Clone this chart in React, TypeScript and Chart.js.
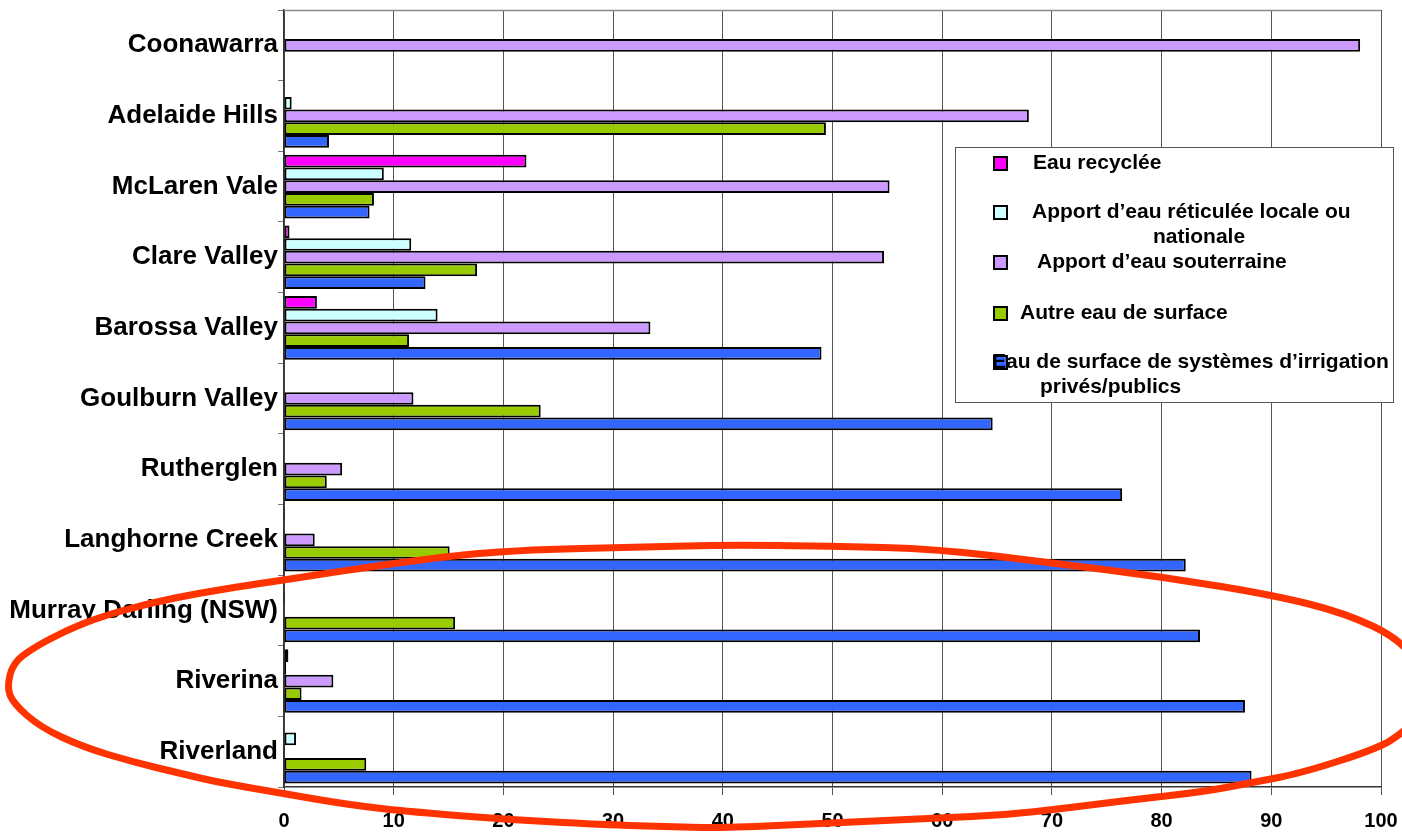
import React, { useEffect, useRef } from "react";
import { Chart, registerables } from "chart.js";

Chart.register(...registerables);

const CATEGORIES = [
  "Coonawarra",
  "Adelaide Hills",
  "McLaren Vale",
  "Clare Valley",
  "Barossa Valley",
  "Goulburn Valley",
  "Rutherglen",
  "Langhorne Creek",
  "Murray Darling (NSW)",
  "Riverina",
  "Riverland",
];

const SERIES_NAMES = [
  "Eau recyclée",
  "Apport d’eau réticulée locale ou nationale",
  "Apport d’eau souterraine",
  "Autre eau de surface",
  "Eau de surface de systèmes d’irrigation privés/publics",
];

const RECYCLED = [0, 0, 22.1, 0.5, 3.0, 0, 0, 0.1, 0, 0.4, 0];
const RETICULATED = [0, 0.7, 9.1, 11.6, 14.0, 0, 0, 0, 0.1, 0.2, 1.1];
const GROUNDWATER = [98.1, 67.9, 55.2, 54.7, 33.4, 11.8, 5.3, 2.8, 0, 4.5, 0.1];
const OTHER_SURFACE = [0, 49.4, 8.2, 17.6, 11.4, 23.4, 3.9, 15.1, 15.6, 1.6, 7.5];
const IRRIGATION = [0, 4.1, 7.8, 12.9, 49.0, 64.6, 76.4, 82.2, 83.5, 87.6, 88.2];

const X_TICKS = [0, 10, 20, 30, 40, 50, 60, 70, 80, 90, 100];

const COLORS = ["#FF00FF", "#CCFFFF", "#CC99FF", "#99CC00", "#3366FF"];

// Legend text lines per series (wrapped like the reference)
const LEGEND_LINES = [
  ["Eau recyclée"],
  ["Apport d’eau réticulée locale ou", "nationale"],
  ["Apport d’eau souterraine"],
  ["Autre eau de surface"],
  ["Eau de surface de systèmes d’irrigation", "privés/publics"],
];

const FONT = "'Liberation Sans', Arial, sans-serif";

const legendPlugin = {
  id: "customLegend",
  afterDraw(chart: any) {
    const ctx = chart.ctx;
    ctx.save();
    const bx = 955, by = 147, bw = 438, bh = 255;
    ctx.fillStyle = "#ffffff";
    ctx.fillRect(bx, by, bw, bh);
    ctx.strokeStyle = "#555555";
    ctx.lineWidth = 1;
    ctx.strokeRect(bx + 0.5, by + 0.5, bw, bh);

    const itemY = [163, 212, 262, 313, 362];
    const lineLayout = [
      [{ x: 1033, y: 163, align: "left" }],
      [{ x: 1032, y: 212, align: "left" }, { x: 1199, y: 237, align: "center" }],
      [{ x: 1037, y: 262, align: "left" }],
      [{ x: 1020, y: 313, align: "left" }],
      [{ x: 992, y: 362, align: "left" }, { x: 1040, y: 387, align: "left" }],
    ];
    ctx.font = `bold 21px ${FONT}`;
    ctx.textBaseline = "middle";
    for (let i = 0; i < LEGEND_LINES.length; i++) {
      const sy = itemY[i] - 7;
      ctx.fillStyle = "#000";
      ctx.fillRect(993, sy, 15, 15);
      ctx.fillStyle = COLORS[i];
      ctx.fillRect(995, sy + 2, 11, 11);
      ctx.fillStyle = "#000";
      LEGEND_LINES[i].forEach((t, j) => {
        const l = lineLayout[i][j];
        ctx.textAlign = l.align;
        ctx.fillText(t, l.x, l.y);
      });
    }
    ctx.restore();
  },
};

const framePlugin = {
  id: "frame",
  beforeDatasetsDraw(chart: any) {
    const { ctx, chartArea } = chart;
    ctx.save();
    ctx.strokeStyle = "#8a8a8a";
    ctx.lineWidth = 1.5;
    ctx.beginPath();
    ctx.moveTo(chartArea.left, chartArea.top + 0.5);
    ctx.lineTo(chartArea.right, chartArea.top + 0.5);
    ctx.stroke();
    ctx.restore();
  },
};

// Hand-drawn red annotation outline
const ELLIPSE_PTS: [number, number][] = [
  [290, 579], [413, 560], [513, 550], [650, 547], [722, 545], [830, 546], [938, 549],
  [1053, 563], [1163, 577], [1273, 595], [1345, 613], [1402, 640], [1428, 680],
  [1425, 712], [1402, 733], [1379, 748], [1302, 773], [1250, 783], [1202, 792],
  [1130, 800], [1067, 808], [1005, 815], [938, 818], [832, 823], [722, 828],
  [680, 827], [613, 825], [513, 820], [413, 812], [350, 805], [280, 793],
  [217, 782], [183, 774], [133, 762], [83, 747], [40, 727], [13, 703], [7, 687],
  [13, 663], [33, 648], [67, 630], [100, 617], [150, 603], [200, 593], [250, 585],
  [290, 579],
];

const annotationPlugin = {
  id: "redOutline",
  afterDraw(chart: any) {
    const ctx = chart.ctx;
    ctx.save();
    ctx.strokeStyle = "#FF3300";
    ctx.lineWidth = 7;
    ctx.lineJoin = "round";
    ctx.lineCap = "round";
    ctx.beginPath();
    const p = ELLIPSE_PTS;
    ctx.moveTo(p[0][0], p[0][1]);
    for (let i = 1; i < p.length - 1; i++) {
      const mx = (p[i][0] + p[i + 1][0]) / 2;
      const my = (p[i][1] + p[i + 1][1]) / 2;
      ctx.quadraticCurveTo(p[i][0], p[i][1], mx, my);
    }
    ctx.lineTo(p[p.length - 1][0], p[p.length - 1][1]);
    ctx.stroke();
    ctx.restore();
  },
};

export default function App() {
  const ref = useRef<HTMLCanvasElement | null>(null);

  useEffect(() => {
    if (!ref.current) return;
    const seriesData = [RECYCLED, RETICULATED, GROUNDWATER, OTHER_SURFACE, IRRIGATION];
    const chart = new Chart(ref.current, {
      type: "bar",
      data: {
        labels: CATEGORIES,
        datasets: seriesData.map((d, i) => ({
          label: SERIES_NAMES[i],
          data: d,
          backgroundColor: COLORS[i],
          borderColor: "#000000",
          borderWidth: 2,
          borderSkipped: false,
          categoryPercentage: 0.9,
          barPercentage: 1.0,
        })),
      },
      options: {
        indexAxis: "y",
        animation: false,
        responsive: true,
        maintainAspectRatio: false,
        layout: { padding: { top: 10, right: 21, left: 0, bottom: 0 } },
        plugins: {
          legend: { display: false },
          tooltip: { enabled: false },
        },
        scales: {
          x: {
            type: "linear",
            min: 0,
            max: 100,
            afterBuildTicks: (scale: any) => {
              scale.ticks = X_TICKS.map((v) => ({ value: v }));
            },
            afterFit: (scale: any) => {
              scale.height = 45;
              scale.paddingLeft = 0;
              scale.paddingRight = 0;
            },
            grid: {
              color: "#555555",
              lineWidth: 1,
              drawTicks: true,
              tickLength: 8,
              tickColor: "#555555",
            },
            border: { display: true, color: "#333333", width: 1.5 },
            ticks: {
              color: "#000",
              padding: 14,
              font: { family: FONT, size: 20, weight: "bold" },
            },
          },
          y: {
            type: "category",
            afterFit: (scale: any) => {
              scale.width = 284;
              scale.paddingTop = 0;
              scale.paddingBottom = 0;
            },
            grid: {
              offset: true,
              drawOnChartArea: false,
              drawTicks: true,
              tickLength: 6,
              color: "#777777",
              tickColor: "#777777",
            },
            border: { display: true, color: "#333333", width: 1.5 },
            ticks: {
              color: "#000",
              padding: 0,
              autoSkip: false,
              font: { family: FONT, size: 26, weight: "bold" },
            },
          },
        },
      },
      plugins: [framePlugin, legendPlugin, annotationPlugin],
    } as any);
    return () => chart.destroy();
  }, []);

  return (
    <div style={{ position: "absolute", left: 0, top: 0, width: 1402, height: 832, background: "#fff" }}>
      <canvas ref={ref} />
    </div>
  );
}
